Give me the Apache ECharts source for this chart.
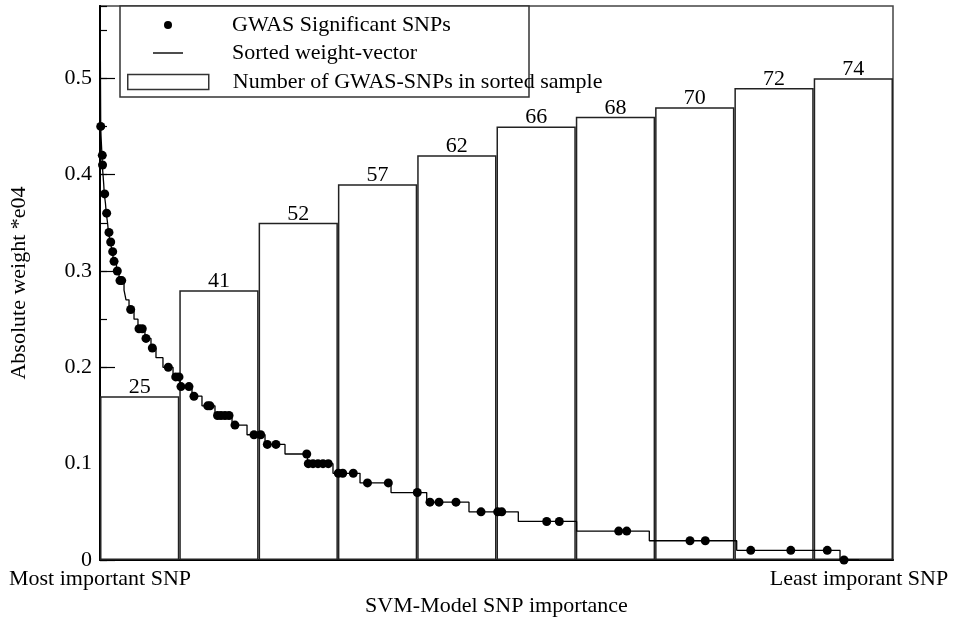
<!DOCTYPE html>
<html>
<head>
<meta charset="utf-8">
<script src="https://cdn.jsdelivr.net/npm/echarts@6/dist/echarts.min.js"></script>
<style>
  html, body { margin: 0; background: #fff; }
  #chart { width: 957px; height: 618px; }
</style>
</head>
<body>
<div id="chart"></div>
<script>
// sorted weight-vector: x (percent of ranked SNPs) where each step level begins, and that level
const stepX = [0, 0.09, 0.13, 0.19, 0.25, 0.29, 0.38, 0.47, 0.54, 0.69, 0.79, 0.95, 1.07, 1.30,
  1.55, 1.73, 2.08, 2.40, 3.03, 3.28, 3.66, 4.29, 4.79, 5.67, 6.43, 7.06, 7.94, 9.21, 10.09,
  11.60, 12.86, 14.50, 16.65, 18.54, 20.81, 23.33, 26.17, 29.38, 32.79, 36.70, 41.20, 46.53,
  52.75, 60.11, 69.27, 80.29, 93.32, 95.71];
const stepY = [0.6, 0.45, 0.44, 0.43, 0.42, 0.41, 0.40, 0.39, 0.38, 0.37, 0.36, 0.35, 0.34, 0.33,
  0.32, 0.31, 0.30, 0.29, 0.28, 0.27, 0.26, 0.25, 0.24, 0.23, 0.22, 0.21, 0.20, 0.19, 0.18,
  0.17, 0.16, 0.15, 0.14, 0.13, 0.12, 0.11, 0.10, 0.09, 0.08, 0.07, 0.06, 0.05,
  0.04, 0.03, 0.02, 0.01, 0, 0];

// GWAS significant SNPs sitting on the weight curve
const gwasX = [0.09, 0.29, 0.32, 0.59, 0.84, 1.13, 1.35, 1.60, 1.77, 2.18, 2.52, 2.74, 3.87,
  4.92, 5.33, 5.80, 6.60, 8.61, 9.55, 9.96, 10.21, 11.22, 11.85, 13.58, 13.87, 14.82, 15.26,
  15.76, 16.27, 17.02, 19.42, 20.26, 21.10, 22.19, 26.07, 26.27, 26.86, 27.49, 28.12, 28.79,
  30.05, 30.61, 31.94, 33.73, 36.36, 40.01, 41.61, 42.75, 44.89, 48.05, 50.15, 50.66, 56.33,
  57.92, 65.41, 66.42, 74.40, 76.33, 82.06, 87.11, 91.71, 93.82];
const gwasY = [0.45, 0.42, 0.41, 0.38, 0.36, 0.34, 0.33, 0.32, 0.31, 0.30, 0.29, 0.29, 0.26,
  0.24, 0.24, 0.23, 0.22, 0.20, 0.19, 0.19, 0.18, 0.18, 0.17, 0.16, 0.16, 0.15, 0.15,
  0.15, 0.15, 0.14, 0.13, 0.13, 0.12, 0.12, 0.11, 0.10, 0.10, 0.10, 0.10, 0.10,
  0.09, 0.09, 0.09, 0.08, 0.08, 0.07, 0.06, 0.06, 0.06, 0.05, 0.05, 0.05, 0.04,
  0.04, 0.03, 0.03, 0.02, 0.02, 0.01, 0.01, 0.01, 0];

// sorted samples (first 10%, 20%, ... of ranked SNPs)
const sampleCats = ['10%', '20%', '30%', '40%', '50%', '60%', '70%', '80%', '90%', '100%'];
const sampleTop = [0.17, 0.28, 0.35, 0.39, 0.42, 0.45, 0.46, 0.47, 0.49, 0.50];
const sampleCount = [25, 41, 52, 57, 62, 66, 68, 70, 72, 74];

const xTickValues = [0, 95.71];
const xTickLabels = ['Most important SNP', 'Least imporant SNP'];

const FONT = 'Liberation Serif';
const txt = { fontFamily: FONT, fontSize: 22, color: '#000' };

const chart = echarts.init(document.getElementById('chart'));
chart.setOption({
  animation: false,
  backgroundColor: '#fff',
  textStyle: { fontFamily: FONT },
  grid: {
    left: 100, right: 64, top: 6, bottom: 58, outerBoundsMode: 'none',
    show: true, borderColor: '#444', borderWidth: 1.5, backgroundColor: 'transparent'
  },
  graphic: [{
    type: 'rect', z: 5,
    shape: { x: 120, y: 6, width: 409, height: 91 },
    style: { fill: '#fff', stroke: '#333', lineWidth: 1.5 }
  }],
  legend: [
    {
      data: ['GWAS Significant SNPs'], left: 164, top: 14, padding: 0, z: 10,
      itemWidth: 8, itemHeight: 8, selectedMode: false, icon: 'circle',
      itemStyle: { color: '#000', opacity: 1 },
      textStyle: Object.assign({ lineHeight: 20, padding: [0, 0, 0, 55] }, txt)
    },
    {
      data: ['Sorted weight-vector'], left: 153, top: 42, padding: 0, z: 10,
      itemWidth: 30, itemHeight: 1.4, selectedMode: false, icon: 'rect',
      itemStyle: { color: '#000' },
      textStyle: Object.assign({ lineHeight: 20, padding: [0, 0, 0, 44] }, txt)
    },
    {
      data: ['Number of GWAS-SNPs in sorted sample'], left: 127, top: 71, padding: 0, z: 10,
      itemWidth: 81, itemHeight: 15, selectedMode: false, icon: 'rect',
      itemStyle: { color: '#fff', borderColor: '#333', borderWidth: 1.5 },
      textStyle: Object.assign({ lineHeight: 20, padding: [0, 0, 0, 19] }, txt)
    }
  ],
  xAxis: [
    {
      type: 'value', min: 0, max: 100,
      name: 'SVM-Model SNP importance', nameLocation: 'middle', nameGap: 34,
      nameTextStyle: txt,
      axisLine: { lineStyle: { color: '#000', width: 2 } },
      axisTick: { inside: true, length: 6, customValues: [xTickValues[1]], lineStyle: { color: '#000' } },
      axisLabel: Object.assign({
        margin: 8,
        customValues: xTickValues,
        formatter: (v) => xTickLabels[xTickValues.indexOf(v)] || ''
      }, txt),
      splitLine: { show: false }
    },
    {
      type: 'category', data: sampleCats, show: false, boundaryGap: true
    }
  ],
  yAxis: [
    {
      type: 'value', position: 'left', min: 0, max: 0.575, interval: 0.1,
      name: 'Absolute weight *e04', nameLocation: 'middle', nameGap: 70,
      nameTextStyle: txt,
      axisLine: { show: true, lineStyle: { color: '#000', width: 2 } },
      axisTick: { inside: true, length: 15, lineStyle: { color: '#000', width: 1.2 } },
      axisLabel: Object.assign({ margin: 8, showMaxLabel: false }, txt),
      splitLine: { show: false }
    },
    {
      type: 'value', position: 'left', min: 0, max: 0.575, interval: 0.05,
      axisLine: { show: false },
      axisTick: { inside: true, length: 7, lineStyle: { color: '#000', width: 1.2 } },
      axisLabel: { show: false },
      splitLine: { show: false }
    }
  ],
  series: [
    {
      name: 'Number of GWAS-SNPs in sorted sample',
      type: 'bar', xAxisIndex: 1, yAxisIndex: 0, z: 1,
      barWidth: '100%',
      data: sampleTop,
      itemStyle: { color: '#fff', borderColor: '#222', borderWidth: 1.5 },
      label: Object.assign({
        show: true, position: 'top', distance: -2,
        formatter: (p) => String(sampleCount[p.dataIndex])
      }, txt)
    },
    {
      name: 'Sorted weight-vector',
      type: 'line', xAxisIndex: 0, yAxisIndex: 0, z: 3,
      step: 'end', symbol: 'none', clip: true,
      data: stepX.map((x, i) => [x, stepY[i]]),
      lineStyle: { color: '#000', width: 1.3 },
      itemStyle: { color: '#000' }
    },
    {
      name: 'GWAS Significant SNPs',
      type: 'scatter', xAxisIndex: 0, yAxisIndex: 0, z: 4,
      symbolSize: 9,
      data: gwasX.map((x, i) => [x, gwasY[i]]),
      itemStyle: { color: '#000', opacity: 1 }
    }
  ]
});
</script>
</body>
</html>
